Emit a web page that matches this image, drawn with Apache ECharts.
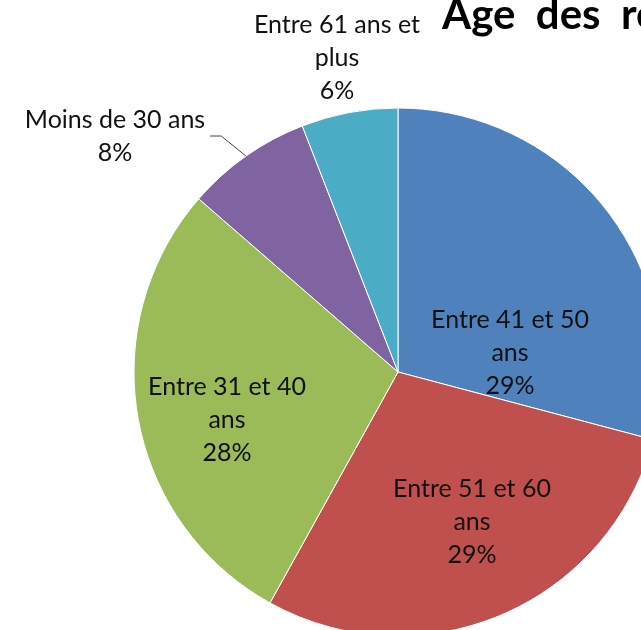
<!DOCTYPE html>
<html>
<head>
<meta charset="utf-8">
<script src="https://cdn.jsdelivr.net/npm/echarts@6/dist/echarts.min.js"></script>
<style>
html,body{margin:0;padding:0;background:#fff;}
#chart{width:641px;height:630px;}
</style>
</head>
<body>
<div id="chart"></div>
<script>
const titleText = "Âge  des  répondants";
const categories = ["Entre 41 et 50 ans", "Entre 51 et 60 ans", "Entre 31 et 40 ans", "Moins de 30 ans", "Entre 61 ans et plus"];
const labelTexts = ["Entre 41 et 50\nans", "Entre 51 et 60\nans", "Entre 31 et 40\nans", "Moins de 30 ans", "Entre 61 ans et\nplus"];
const values = [29.1, 28.9, 28.3, 7.7, 5.9];
const colors = ["#4F81BD", "#C0504D", "#9BBB59", "#8064A2", "#4BACC6"];

const FONT = "Lato, 'Open Sans', sans-serif";
const labelPos = [
  {x: 510, y: 353}, {x: 472, y: 522}, {x: 227, y: 420}, {x: 117.5, y: 136}, {x: 337, y: 58}
];
const insideIdx = [0, 1, 2];

const chart = echarts.init(document.getElementById('chart'), null, {renderer: 'canvas'});
const data = categories.map((c, i) => ({
  name: c,
  value: values[i],
  itemStyle: {color: colors[i]},
  label: Object.assign({
    position: insideIdx.includes(i) ? 'inside' : 'outside',
    formatter: function (p) { return labelTexts[i] + "\n" + Math.round(p.percent) + "%"; }
  }, i === 3 ? {padding: [20, 5, 0, 0]} : {}),
  labelLine: {show: i === 3}
}));

chart.setOption({
  animation: false,
  title: {
    text: titleText,
    left: 437,
    top: -11,
    textStyle: {fontFamily: FONT, fontWeight: 'bold', fontSize: 42, color: '#000'}
  },
  series: [{
    type: 'pie',
    center: [398, 372],
    radius: 264,
    startAngle: 90,
    clockwise: true,
    avoidLabelOverlap: false,
    itemStyle: {borderColor: '#ffffff', borderWidth: 1},
    label: {
      fontFamily: FONT,
      fontSize: 25,
      lineHeight: 33,
      color: '#111111',
      align: 'center'
    },
    labelLine: {length: 33, length2: 11, lineStyle: {color: '#404040', width: 1}},
    labelLayout: function (p) {
      const pos = labelPos[p.dataIndex];
      return {x: pos.x, y: pos.y, align: 'center', verticalAlign: 'middle'};
    },
    data: data
  }]
});
</script>
</body>
</html>
